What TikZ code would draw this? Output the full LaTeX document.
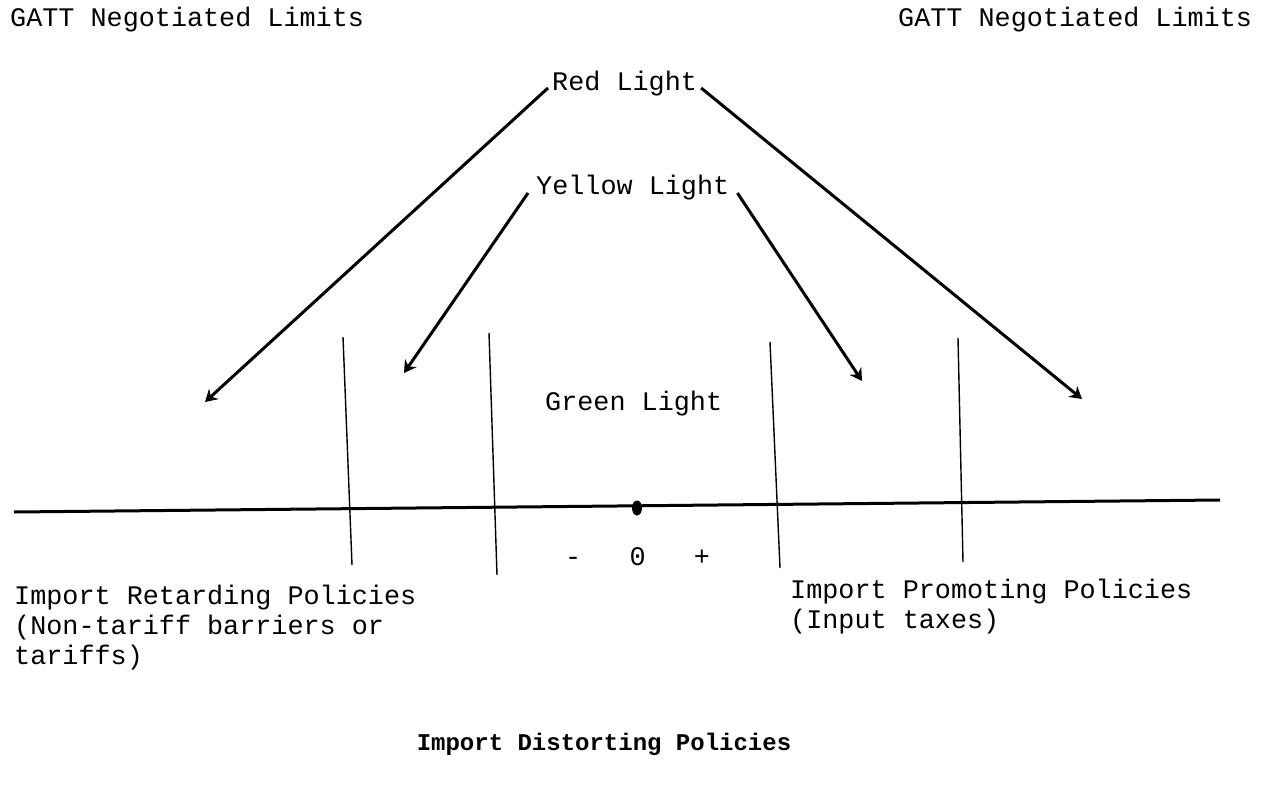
\documentclass[tikz,border=0pt]{standalone}
\usepackage{fontspec}
\setmonofont{Liberation Mono}
\usetikzlibrary{arrows.meta,shapes.geometric}
\begin{document}
\begin{tikzpicture}[x=1pt,y=-1pt,
  lbl/.style={font=\fontsize{26.8}{30}\selectfont\ttfamily, inner sep=0pt, anchor=base west},
  ttl/.style={font=\fontsize{24}{28}\selectfont\ttfamily\bfseries, inner sep=0pt, anchor=base},
  arr/.style={line width=3pt, -{Stealth[length=12pt,width=14pt,inset=4pt]}},
  tick/.style={line width=1.4pt},
  axis/.style={line width=3pt},
]
\useasboundingbox (0,0) rectangle (1265,802);

% labels
\node[lbl] (gattL) at (10,27) {GATT Negotiated Limits};
\node[lbl] (gattR) at (898,27) {GATT Negotiated Limits};
\node[lbl] (red) at (552,91) {Red Light};
\node[lbl] (yellow) at (536,195) {Yellow Light};
\node[lbl] (green) at (545,410) {Green Light};
\node[lbl] (signs) at (565,565) {-\ \ \ 0\ \ \ +};
\node[lbl, align=left, anchor=north west] (retard) at (14,585)
  {Import Retarding Policies\\(Non-tariff barriers or\\tariffs)};
\node[lbl, align=left, anchor=north west] (promote) at (790,579)
  {Import Promoting Policies\\(Input taxes)};
\node[ttl] (title) at (604,750) {Import Distorting Policies};

% arrow targets
\coordinate (redL) at (205,402);
\coordinate (redR) at (1082,399);
\coordinate (yelL) at (404,373);
\coordinate (yelR) at (862,381);

% arrows
\draw[arr] ([shift={(-4,-3)}]red.base west) -- (redL);
\draw[arr] ([shift={(4,-3)}]red.base east) -- (redR);
\draw[arr] ([shift={(-8,-2)}]yellow.base west) -- (yelL);
\draw[arr] ([shift={(8,-2)}]yellow.base east) -- (yelR);

% axis
\coordinate (axL) at (14,512);
\coordinate (axR) at (1220,500);
\draw[axis] (axL) -- (axR);
\node[ellipse, fill=black, inner sep=0pt, minimum width=10pt, minimum height=15pt] (zero) at (637,508) {};

% vertical boundaries
\coordinate (v1t) at (343,337); \coordinate (v1b) at (352,565);
\coordinate (v2t) at (489,333); \coordinate (v2b) at (497,575);
\coordinate (v3t) at (770,342); \coordinate (v3b) at (780,568);
\coordinate (v4t) at (958,338); \coordinate (v4b) at (963,562);
\draw[tick] (v1t) -- (v1b);
\draw[tick] (v2t) -- (v2b);
\draw[tick] (v3t) -- (v3b);
\draw[tick] (v4t) -- (v4b);
\end{tikzpicture}
\end{document}
